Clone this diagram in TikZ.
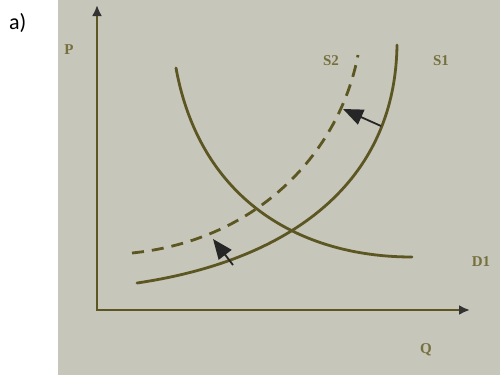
\documentclass[tikz,border=0pt]{standalone}
\usepackage{fontspec}
\setmainfont{Liberation Serif}
\newfontfamily\labelfont{Carlito}
\usetikzlibrary{arrows.meta}
\definecolor{paper}{RGB}{198,198,186}
\definecolor{ink}{RGB}{92,86,34}
\definecolor{txt}{RGB}{118,112,62}
\begin{document}
\begin{tikzpicture}[x=1pt,y=-1pt,
  curve/.style={ink, line width=2.8pt, line cap=round},
  axisline/.style={ink, line width=2.8pt, {Latex[length=11pt,width=10pt,black!80]}-{Latex[length=11pt,width=10pt,black!80]}},
  lbl/.style={txt, font=\bfseries\fontsize{15}{15}\selectfont, inner sep=0pt},
  shiftarrow/.style={black!85, line width=1.8pt, -{Triangle[length=20pt,width=16pt]}}]
\useasboundingbox (0,0) rectangle (500,375);
\fill[white] (0,0) rectangle (500,375);
\fill[paper] (58,0) rectangle (500,375);
\node[font=\labelfont\fontsize{22}{22}\selectfont, anchor=west, inner sep=0pt] (a) at (9,23) {a)};
% axes
\coordinate (Ytop) at (97,5);
\coordinate (O) at (97,310);
\coordinate (Xend) at (470,310);
\draw[axisline] (Ytop) -- (O) -- (Xend);
% demand D1
\draw[curve] (176,68) .. controls (200,200) and (300,257) .. (412,257);
% supply S1
\draw[curve] (137,283) .. controls (280,262) and (395,190) .. (397,45);
% supply S2 (dashed)
\draw[curve, line cap=butt, dash pattern=on 12pt off 8pt] (132,253) .. controls (260,240) and (340,150) .. (358,55);
% shift arrows
\coordinate (s1a) at (381,126);
\coordinate (s2a) at (343,109);
\draw[shiftarrow] (s1a) -- (s2a);
\coordinate (s1b) at (233,265);
\coordinate (s2b) at (213,239);
\draw[shiftarrow] (s1b) -- (s2b);
% labels
\node[lbl] (P) at (69,50) {P};
\node[lbl] (S2) at (331,61) {S2};
\node[lbl] (S1) at (441,61) {S1};
\node[lbl] (D1) at (481,262) {D1};
\node[lbl] (Q) at (426,350) {Q};
\end{tikzpicture}
\end{document}
